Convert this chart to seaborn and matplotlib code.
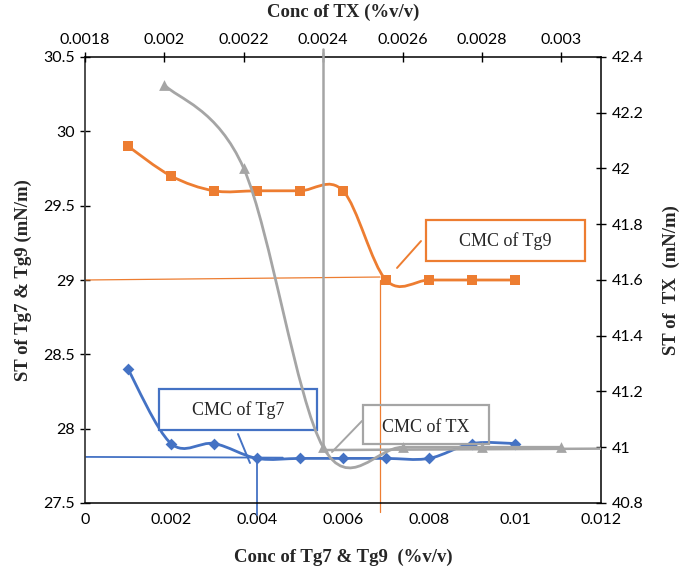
import numpy as np
import pandas as pd
import matplotlib
matplotlib.use("Agg")
import matplotlib.pyplot as plt
from matplotlib.path import Path
from matplotlib.patches import PathPatch, Rectangle
import seaborn as sns

# ---------------- data ----------------
conc_tg = [0.001, 0.002, 0.003, 0.004, 0.005, 0.006, 0.007, 0.008, 0.009, 0.010]
st_tg7 = [28.4, 27.9, 27.9, 27.8, 27.8, 27.8, 27.8, 27.8, 27.9, 27.9]
st_tg9 = [29.9, 29.7, 29.6, 29.6, 29.6, 29.6, 29.0, 29.0, 29.0, 29.0]

conc_tx = [0.0020, 0.0022, 0.0024, 0.0026, 0.0028, 0.0030]
st_tx = [42.3, 42.0, 41.0, 41.0, 41.0, 41.0]

cmc_tg7 = 0.0040
cmc_st_tg7 = 27.81
cmc_tg9 = 0.00686
cmc_st_tg9 = 29.0
cmc_tx = 0.0024
cmc_st_tx = 40.99

bottom_ticks = [0, 0.002, 0.004, 0.006, 0.008, 0.010, 0.012]
bottom_labels = ["0", "0.002", "0.004", "0.006", "0.008", "0.01", "0.012"]
left_ticks = [27.5, 28.0, 28.5, 29.0, 29.5, 30.0, 30.5]
left_labels = ["27.5", "28", "28.5", "29", "29.5", "30", "30.5"]
top_ticks = [0.0018, 0.0020, 0.0022, 0.0024, 0.0026, 0.0028, 0.0030]
top_labels = ["0.0018", "0.002", "0.0022", "0.0024", "0.0026", "0.0028", "0.003"]
right_ticks = [40.8, 41.0, 41.2, 41.4, 41.6, 41.8, 42.0, 42.2, 42.4]
right_labels = ["40.8", "41", "41.2", "41.4", "41.6", "41.8", "42", "42.2", "42.4"]

BLUE = "#4472C4"
ORANGE = "#ED7D31"
GRAY = "#A5A5A5"

sns.set_style("white")
plt.rcParams["font.family"] = ["Lato", "DejaVu Sans"]
SERIF = ["Liberation Serif", "DejaVu Serif"]
TICKFONT = ["Lato", "DejaVu Sans"]


def smooth_path(xs, ys):
    P = np.column_stack([xs, ys]).astype(float)
    n = len(P)
    verts = [P[0]]
    codes = [Path.MOVETO]
    for i in range(n - 1):
        p0 = P[i - 1] if i > 0 else P[i]
        p3 = P[i + 2] if i + 2 < n else P[i + 1]
        c1 = P[i] + (P[i + 1] - p0) / 6.0
        c2 = P[i + 1] - (p3 - P[i]) / 6.0
        verts += [c1, c2, P[i + 1]]
        codes += [Path.CURVE4] * 3
    return Path(verts, codes)


fig = plt.figure(figsize=(6.85, 5.74), dpi=100)
ax = fig.add_axes([85 / 685, 1 - 503 / 574, 516 / 685, 446 / 574])
ax_r = ax.twinx()
ax_t = ax_r.twiny()

ax.set_xlim(0, 0.012)
ax.set_ylim(27.5, 30.5)
ax_r.set_ylim(40.8, 42.4)
ax_t.set_xlim(0.0018, 0.0031)

df_tg = pd.DataFrame({"conc": conc_tg, "tg7": st_tg7, "tg9": st_tg9})
df_tx = pd.DataFrame({"conc": conc_tx, "tx": st_tx})

# smooth lines
ax.add_patch(PathPatch(smooth_path(conc_tg, st_tg9), fill=False, edgecolor=ORANGE, lw=2.0, zorder=3))
ax.add_patch(PathPatch(smooth_path(conc_tg, st_tg7), fill=False, edgecolor=BLUE, lw=2.0, zorder=3))
ax_t.add_patch(PathPatch(smooth_path(conc_tx, st_tx), fill=False, edgecolor=GRAY, lw=2.0, zorder=3))

# markers
sns.scatterplot(data=df_tg, x="conc", y="tg9", ax=ax, marker="s", s=52, color=ORANGE,
                edgecolor=ORANGE, linewidth=0, zorder=4, legend=False)
sns.scatterplot(data=df_tg, x="conc", y="tg7", ax=ax, marker="D", s=36, color=BLUE,
                edgecolor=BLUE, linewidth=0, zorder=4, legend=False)
sns.scatterplot(data=df_tx, x="conc", y="tx", ax=ax_t, marker="^", s=60, color=GRAY,
                edgecolor=GRAY, linewidth=0, zorder=4, legend=False)

# CMC reference lines
ax.plot([0, cmc_tg9], [cmc_st_tg9, cmc_st_tg9 + 0.02], color=ORANGE, lw=0.9, zorder=2)
ax.plot([cmc_tg9, cmc_tg9], [cmc_st_tg9, 27.44], color=ORANGE, lw=0.9, zorder=2, clip_on=False)
ax.plot([0, 0.0046], [cmc_st_tg7, cmc_st_tg7 - 0.005], color=BLUE, lw=1.3, zorder=2)
ax.plot([cmc_tg7, cmc_tg7], [cmc_st_tg7, 27.42], color=BLUE, lw=1.3, zorder=2, clip_on=False)
ax_t.plot([cmc_tx, cmc_tx], [cmc_st_tx, 42.43], color=GRAY, lw=1.8, zorder=2, clip_on=False)
ax_t.plot([cmc_tx, 0.0031], [cmc_st_tx, cmc_st_tx + 0.005], color=GRAY, lw=1.8, zorder=2)

# callout boxes
ax.add_patch(Rectangle((0.00172, 27.991), 0.00540 - 0.00172, 28.267 - 27.991, fill=True,
                       facecolor="white", edgecolor=BLUE, lw=1.6, zorder=5))
ax.text(0.00356, 28.125, "CMC of Tg7", family=SERIF, fontsize=13, ha="center", va="center", zorder=6)
ax.plot([0.003558, 0.003837], [27.964, 27.769], color=BLUE, lw=1.4, zorder=5)

ax.add_patch(Rectangle((0.006465, 27.897), 0.009395 - 0.006465, 28.159 - 27.897, fill=False,
                       edgecolor=GRAY, lw=1.6, zorder=5))
ax.text(0.00793, 28.01, "CMC of TX", family=SERIF, fontsize=13, ha="center", va="center", zorder=6)
ax.plot([0.006442, 0.005744], [28.052, 27.843], color=GRAY, lw=1.4, zorder=5)

ax.add_patch(Rectangle((0.00793, 29.128), 0.011628 - 0.00793, 29.404 - 29.128, fill=True,
                       facecolor="white", edgecolor=ORANGE, lw=1.6, zorder=5))
ax.text(0.00978, 29.262, "CMC of Tg9", family=SERIF, fontsize=13, ha="center", va="center", zorder=6)
ax.plot([0.007814, 0.007256], [29.262, 29.081], color=ORANGE, lw=1.4, zorder=5)

# ticks
ax.set_xticks(bottom_ticks)
ax.set_xticklabels(bottom_labels)
ax.set_yticks(left_ticks)
ax.set_yticklabels(left_labels)
ax_r.set_yticks(right_ticks)
ax_r.set_yticklabels(right_labels)
ax_t.set_xticks(top_ticks)
ax_t.set_xticklabels(top_labels)

for a in (ax, ax_r, ax_t):
    a.tick_params(direction="inout", length=7, width=1.0, colors="black", labelsize=11.5, pad=4)
    for lab in a.get_xticklabels() + a.get_yticklabels():
        lab.set_family(TICKFONT)

for a in (ax_r, ax_t):
    a.patch.set_visible(False)
    for s in a.spines.values():
        s.set_visible(False)
ax.spines["left"].set_color("#404040")
ax.spines["left"].set_linewidth(1.3)
ax.spines["bottom"].set_color("black")
ax.spines["bottom"].set_linewidth(1.1)
ax.spines["top"].set_color("black")
ax.spines["top"].set_linewidth(1.1)
ax.spines["right"].set_color("black")
ax.spines["right"].set_linewidth(1.1)

ax.set_xlabel("Conc of Tg7 & Tg9  (%v/v)", family=SERIF, fontsize=13.5, fontweight="bold", labelpad=15)
ax.set_ylabel("ST of Tg7 & Tg9 (mN/m)", family=SERIF, fontsize=13.5, fontweight="bold", labelpad=8)
ax_r.set_ylabel("ST of  TX  (mN/m)", family=SERIF, fontsize=13.5, fontweight="bold", labelpad=14)
ax_t.set_xlabel("Conc of TX (%v/v)", family=SERIF, fontsize=13.5, fontweight="bold", labelpad=11)

fig.savefig("out.png", dpi=100, facecolor="white")
